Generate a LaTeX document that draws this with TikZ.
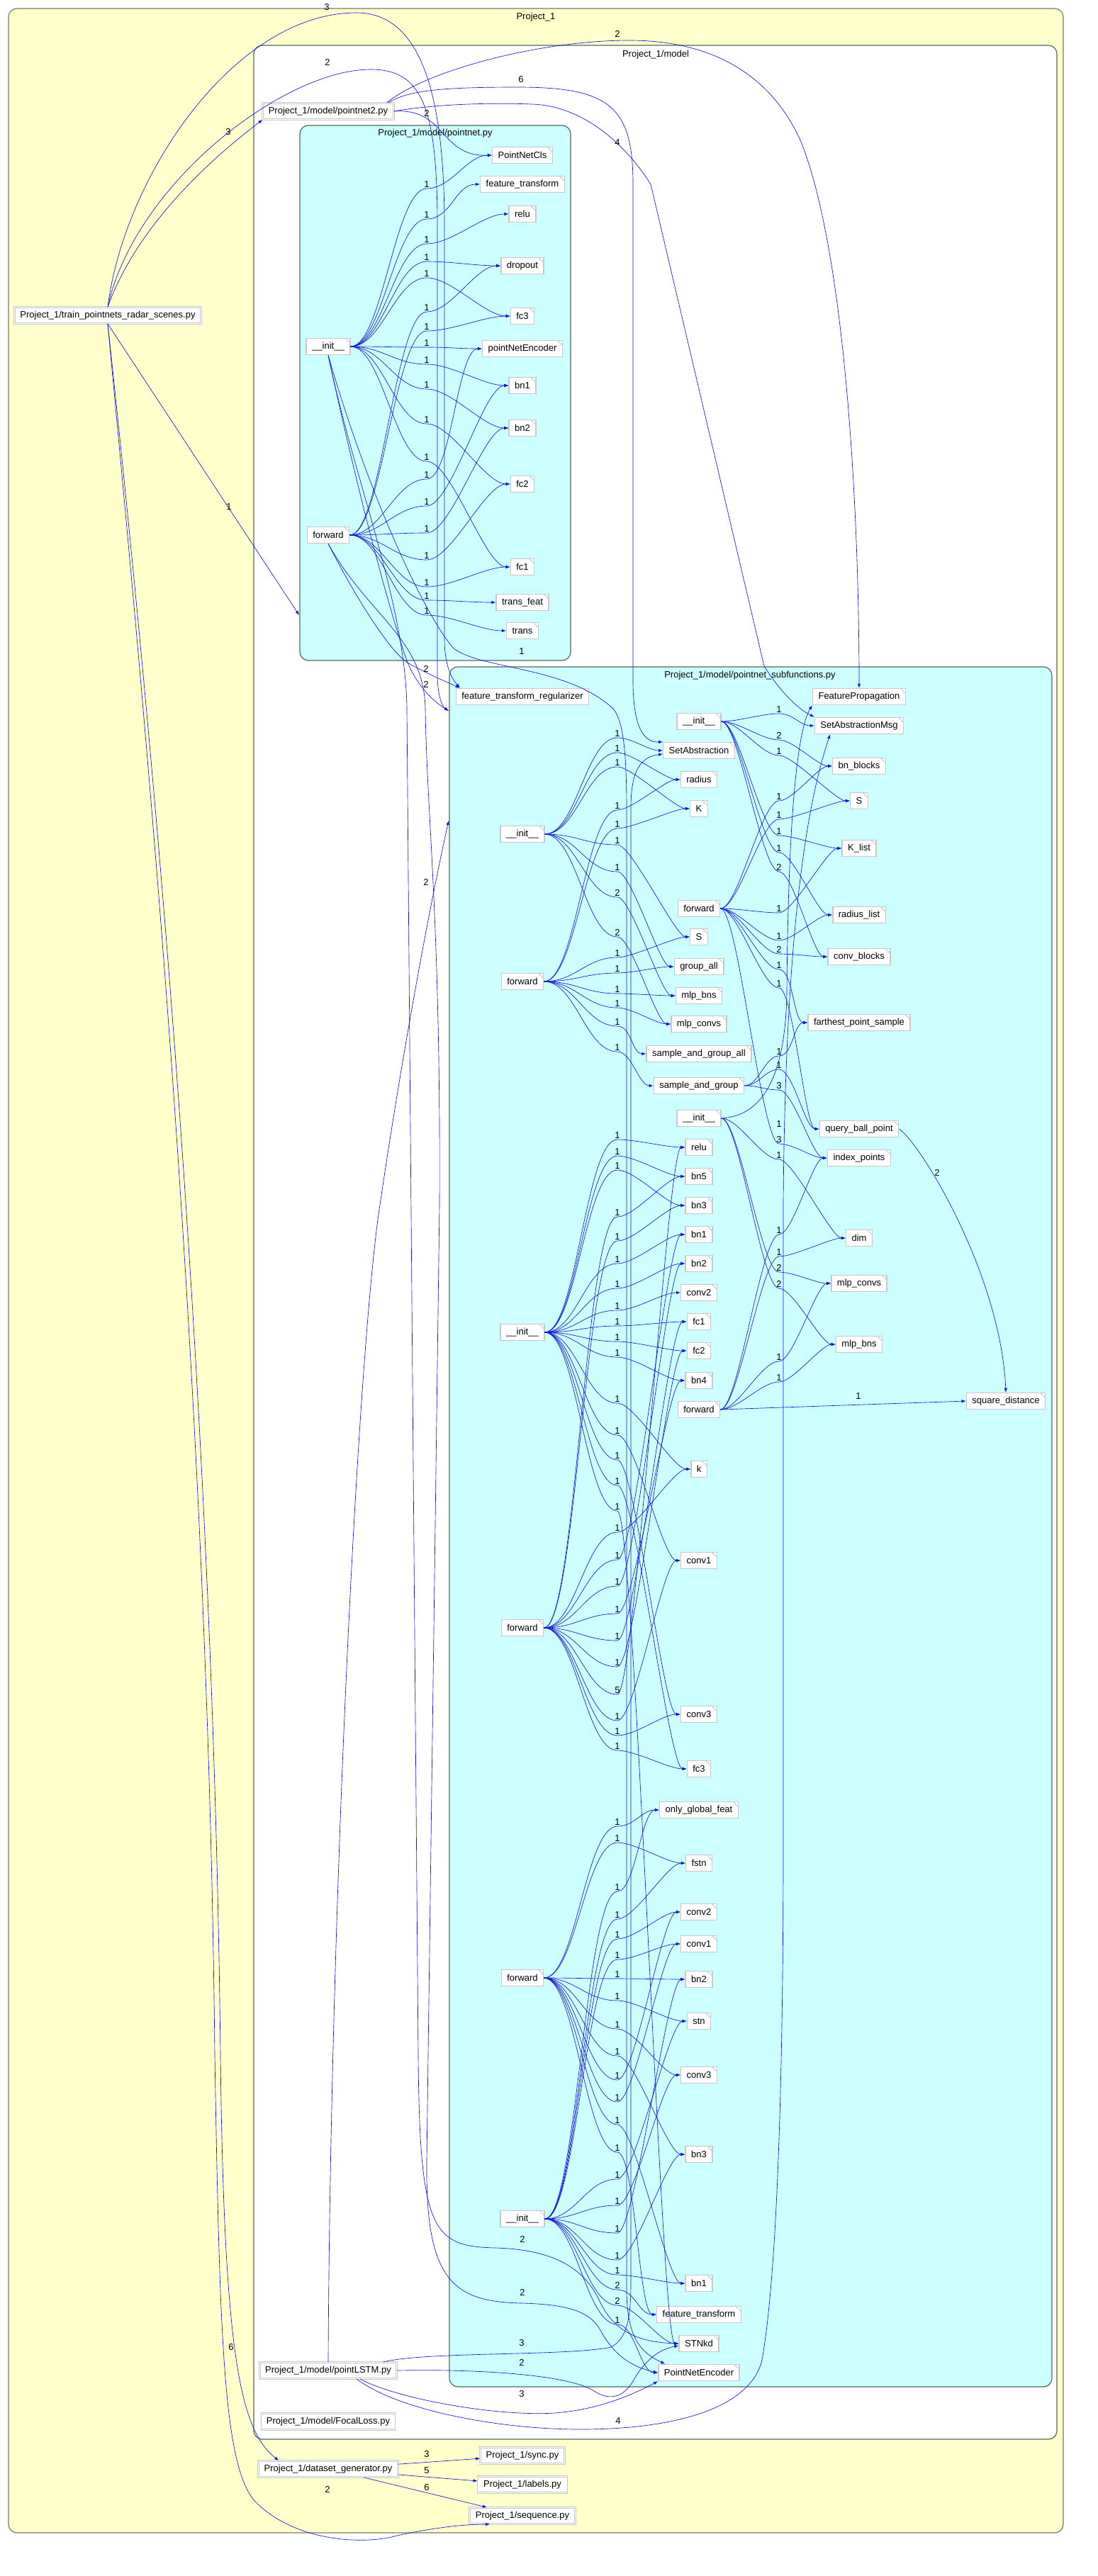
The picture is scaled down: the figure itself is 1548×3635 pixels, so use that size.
\documentclass[tikz,border=0pt]{standalone}
\usepackage{fontspec}
\setmainfont{Liberation Sans}
\usetikzlibrary{arrows.meta}
\definecolor{outerfill}{HTML}{FFFFCC}
\definecolor{cyanfill}{HTML}{CCFFFF}
\definecolor{outerline}{HTML}{7A7A6A}
\definecolor{clusterline}{HTML}{506A5A}
\definecolor{nodeline}{HTML}{C8C8C8}
\definecolor{edgeblue}{HTML}{1010E0}
\newcommand{\gvfont}{\fontsize{13}{15}\selectfont}
\tikzset{
  fnbox/.style={draw=nodeline, line width=1.5pt, fill=white, font=\gvfont,
    minimum height=23pt, inner xsep=8pt, inner ysep=1pt,
    path picture={\draw[nodeline, line width=1pt]
      ([xshift=-7pt]path picture bounding box.north east) --
      ([yshift=-7pt]path picture bounding box.north east);}},
  filebox/.style={draw=nodeline, line width=0.9pt, double=white, double distance=1pt,
    fill=white, font=\gvfont, minimum height=23pt, inner xsep=8pt, inner ysep=1pt},
  clus/.style={rounded corners=12pt, line width=1.2pt},
  call/.style={draw=edgeblue, line width=0.65pt, -{Latex[length=6pt,width=4.5pt]}},
  lbl/.style={font=\gvfont, inner sep=1pt, anchor=south},
  lblc/.style={font=\gvfont, inner sep=1pt, anchor=center}
}
\begin{document}
\begin{tikzpicture}[x=1pt, y=-1pt]
  \useasboundingbox (0,0) rectangle (1548,3635);
  % Clusters
  \filldraw[clus, fill=outerfill, draw=outerline] (12,12) rectangle (1500,3574);
  \node[font=\gvfont] at (756,24) {Project\_1};
  \filldraw[clus, fill=white, draw=clusterline] (358,64) rectangle (1491,3442);
  \node[font=\gvfont] at (925,77) {Project\_1/model};
  \filldraw[clus, fill=cyanfill, draw=clusterline] (423,177) rectangle (805,932);
  \node[font=\gvfont] at (614,188) {Project\_1/model/pointnet.py};
  \filldraw[clus, fill=cyanfill, draw=clusterline] (634,941) rectangle (1484,3368);
  \node[font=\gvfont] at (1058,953) {Project\_1/model/pointnet\_subfunctions.py};
  \coordinate (cbp) at (422,868);
  \coordinate (cb1) at (633,1003);
  \coordinate (cb2) at (633,1158);

  % Files
  \node[filebox] (train) at (152,445) {Project\_1/train\_pointnets\_radar\_scenes.py};
  \node[filebox] (pnet2) at (463,157) {Project\_1/model/pointnet2.py};
  \node[filebox] (plstm) at (463,3345) {Project\_1/model/pointLSTM.py};
  \node[filebox] (focal) at (463,3417) {Project\_1/model/FocalLoss.py};
  \node[filebox] (dgen) at (463,3484) {Project\_1/dataset\_generator.py};
  \node[filebox] (sync) at (737,3465) {Project\_1/sync.py};
  \node[filebox] (labels) at (737,3506) {Project\_1/labels.py};
  \node[filebox] (seq) at (737,3550) {Project\_1/sequence.py};

  % pointnet.py
  \node[fnbox] (pinit) at (463,489) {\_\_init\_\_};
  \node[fnbox] (pfwd) at (463,755) {forward};
  \node[fnbox] (pncls) at (737,219) {PointNetCls};
  \node[fnbox] (pftr) at (737,260) {feature\_transform};
  \node[fnbox] (prelu) at (737,302) {relu};
  \node[fnbox] (pdrop) at (737,375) {dropout};
  \node[fnbox] (pfc3) at (737,446) {fc3};
  \node[fnbox] (penc) at (737,492) {pointNetEncoder};
  \node[fnbox] (pbn1) at (737,544) {bn1};
  \node[fnbox] (pbn2) at (737,604) {bn2};
  \node[fnbox] (pfc2) at (737,683) {fc2};
  \node[fnbox] (pfc1) at (737,800) {fc1};
  \node[fnbox] (ptf) at (737,850) {trans\_feat};
  \node[fnbox] (ptr) at (737,890) {trans};

  % pointnet_subfunctions.py, SetAbstraction / SetAbstractionMsg
  \node[fnbox] (ftreg) at (737,983) {feature\_transform\_regularizer};
  \node[fnbox] (sFP) at (1212,983) {FeaturePropagation};
  \node[fnbox] (initB) at (986,1018) {\_\_init\_\_};
  \node[fnbox] (sSAM) at (1212,1024) {SetAbstractionMsg};
  \node[fnbox] (sSA) at (986,1059) {SetAbstraction};
  \node[fnbox] (bnb) at (1212,1081) {bn\_blocks};
  \node[fnbox] (radA) at (986,1100) {radius};
  \node[fnbox] (SB) at (1212,1130) {S};
  \node[fnbox] (KA) at (986,1141) {K};
  \node[fnbox] (initA) at (737,1177) {\_\_init\_\_};
  \node[fnbox] (Klist) at (1212,1197) {K\_list};
  \node[fnbox] (fwdB) at (986,1282) {forward};
  \node[fnbox] (radlist) at (1212,1291) {radius\_list};
  \node[fnbox] (SA) at (986,1322) {S};
  \node[fnbox] (convb) at (1212,1350) {conv\_blocks};
  \node[fnbox] (gall) at (986,1364) {group\_all};
  \node[fnbox] (fwdA) at (737,1385) {forward};
  \node[fnbox] (mbnsA) at (986,1405) {mlp\_bns};
  \node[fnbox] (fps) at (1212,1443) {farthest\_point\_sample};
  \node[fnbox] (mconvA) at (986,1445) {mlp\_convs};
  \node[fnbox] (sgall) at (986,1487) {sample\_and\_group\_all};
  \node[fnbox] (sg) at (986,1532) {sample\_and\_group};
  % FeaturePropagation / STNkd
  \node[fnbox] (initC) at (986,1578) {\_\_init\_\_};
  \node[fnbox] (qbp) at (1212,1593) {query\_ball\_point};
  \node[fnbox] (reluD) at (986,1619) {relu};
  \node[fnbox] (idxp) at (1212,1634) {index\_points};
  \node[fnbox] (bn5D) at (986,1660) {bn5};
  \node[fnbox] (bn3D) at (986,1701) {bn3};
  \node[fnbox] (bn1D) at (986,1742) {bn1};
  \node[fnbox] (dimC) at (1212,1747) {dim};
  \node[fnbox] (bn2D) at (986,1783) {bn2};
  \node[fnbox] (mconvC) at (1212,1811) {mlp\_convs};
  \node[fnbox] (conv2D) at (986,1824) {conv2};
  \node[fnbox] (fc1D) at (986,1865) {fc1};
  \node[fnbox] (initD) at (737,1880) {\_\_init\_\_};
  \node[fnbox] (mbnsC) at (1212,1897) {mlp\_bns};
  \node[fnbox] (fc2D) at (986,1906) {fc2};
  \node[fnbox] (bn4D) at (986,1948) {bn4};
  \node[fnbox] (sqd) at (1419,1977) {square\_distance};
  \node[fnbox] (fwdC) at (986,1989) {forward};
  \node[fnbox] (kD) at (986,2073) {k};
  \node[fnbox] (conv1D) at (986,2202) {conv1};
  \node[fnbox] (fwdE) at (737,2297) {forward};
  \node[fnbox] (conv3D) at (986,2419) {conv3};
  \node[fnbox] (fc3D) at (986,2496) {fc3};
  % PointNetEncoder
  \node[fnbox] (ogf) at (986,2554) {only\_global\_feat};
  \node[fnbox] (fstn) at (986,2629) {fstn};
  \node[fnbox] (conv2G) at (986,2698) {conv2};
  \node[fnbox] (conv1G) at (986,2743) {conv1};
  \node[fnbox] (fwdF) at (737,2791) {forward};
  \node[fnbox] (bn2G) at (986,2793) {bn2};
  \node[fnbox] (stnG) at (986,2852) {stn};
  \node[fnbox] (conv3G) at (986,2928) {conv3};
  \node[fnbox] (bn3G) at (986,3040) {bn3};
  \node[fnbox] (initG) at (737,3131) {\_\_init\_\_};
  \node[fnbox] (bn1G) at (986,3222) {bn1};
  \node[fnbox] (ftG) at (986,3266) {feature\_transform};
  \node[fnbox] (stnkd) at (986,3307) {STNkd};
  \node[fnbox] (pne) at (986,3348) {PointNetEncoder};

  % train_pointnets_radar_scenes.py
  \draw[call] (train.north) .. controls (200,300) and (330,200) .. (pnet2.south west)
    node[lblc] at (322,186) {3};
  \draw[call] (train.south) -- (cbp) node[lblc] at (323,715) {1};
  \draw[call] (train.north) .. controls (175,250) and (330,18) .. (503,18)
    .. controls (600,18) and (627,150) .. (627,320) -- (627,900)
    .. controls (627,945) and (640,960) .. ([xshift=6pt]ftreg.north west)
    node[lblc] at (461,10) {3};
  \draw[call] (train.north) .. controls (190,260) and (400,98) .. (523,98)
    .. controls (595,98) and (617,150) .. (617,320) -- (617,950)
    .. controls (617,985) and (625,998) .. (cb1)
    node[lblc] at (462,88) {2};
  \draw[call] (train.south) .. controls (205,950) and (300,1900) .. (311,2900)
    .. controls (316,3330) and (340,3430) .. ([xshift=29pt]dgen.north west)
    node[lblc] at (326,3312) {6};
  \draw[call] (train.south) .. controls (198,950) and (293,1900) .. (303,2900)
    .. controls (310,3300) and (315,3480) .. (360,3530)
    .. controls (420,3590) and (520,3590) .. (560,3578)
    .. controls (620,3565) and (660,3562) .. ([xshift=-46pt]seq.south)
    node[lblc] at (462,3513) {2};

  % pointnet2.py
  \draw[call] (pnet2.east) .. controls (630,152) and (620,222) .. (pncls.west)
    node[lblc] at (602,160) {2};
  \draw[call] ([xshift=-8pt]pnet2.north east) .. controls (575,128) and (620,123) .. (730,123)
    .. controls (860,123) and (893,150) .. (893,260) -- (893,960)
    .. controls (893,1030) and (910,1048) .. (sSA.north west)
    node[lblc] at (735,112) {6};
  \draw[call] (pnet2.east) .. controls (620,146) and (700,145) .. (750,147)
    .. controls (820,149) and (880,200) .. (918,260) -- (1078,940)
    .. controls (1100,975) and (1125,1000) .. (sSAM.north west)
    node[lblc] at (871,201) {4};
  \draw[call] ([xshift=-10pt]pnet2.north east) .. controls (600,100) and (760,57) .. (888,57)
    .. controls (1010,57) and (1090,110) .. (1130,200)
    .. controls (1190,350) and (1212,700) .. (sFP.north)
    node[lblc] at (871,48) {2};

  % pointnet.py calls
  \foreach \t/\y in {pncls/260,pftr/303,prelu/338,pdrop/363,pfc3/386,penc/484,pbn1/508,pbn2/543,pfc2/592,pfc1/645}
    \draw[call] (pinit.east) .. controls +(45,0) and +(-45,0) .. (602,\y+6) node[lbl]{1}
      .. controls +(35,0) and +(-35,0) .. (\t.west);
  \foreach \t/\y in {pdrop/434,pfc3/461,penc/670,pbn1/708,pbn2/746,pfc2/784,pfc1/822,ptf/841,ptr/862}
    \draw[call] (pfwd.east) .. controls +(45,0) and +(-45,0) .. (602,\y+6) node[lbl]{1}
      .. controls +(35,0) and +(-35,0) .. (\t.west);
  \draw[call] (pinit.south) .. controls (510,720) and (555,880) .. (575,935)
    .. controls (590,970) and (612,990) .. (cb1) node[lblc] at (601,966) {2};
  \draw[call] (pfwd.south) .. controls (500,840) and (550,920) .. (575,935)
    .. controls (600,950) and (630,962) .. ([xshift=6pt]ftreg.north west)
    node[lblc] at (601,944) {2};
  \draw[call] (pinit.south) .. controls (520,700) and (600,870) .. (640,915)
    .. controls (680,945) and (800,940) .. (865,1000)
    .. controls (882,1020) and (884,1080) .. (884,1150) -- (884,3230)
    .. controls (884,3300) and (905,3320) .. ([xshift=10pt]pne.north west)
    node[lblc] at (736,919) {1};
  \draw[call] (pinit.south) .. controls (500,680) and (572,850) .. (574,1000) -- (590,2900)
    .. controls (592,3150) and (610,3170) .. (700,3172)
    .. controls (800,3175) and (830,3215) .. (845,3245)
    .. controls (865,3290) and (900,3305) .. (stnkd.west)
    node[lblc] at (737,3160) {2};
  \draw[call] (pfwd.south) .. controls (520,870) and (598,900) .. (600,1000)
    .. controls (602,1150) and (622,1300) .. (620,1700) -- (602,3050)
    .. controls (600,3220) and (640,3248) .. (737,3250)
    .. controls (810,3252) and (835,3265) .. (848,3290)
    .. controls (870,3330) and (900,3342) .. (pne.west)
    node[lblc] at (737,3235) {2};

  % pointLSTM.py
  \draw[call] (plstm.north) .. controls (466,2700) and (505,1900) .. (536,1700)
    .. controls (570,1470) and (610,1260) .. (cb2) node[lblc] at (601,1245) {2};
  \draw[call] ([xshift=-20pt]plstm.north east) .. controls (600,3318) and (800,3325) .. (862,3312)
    .. controls (885,3300) and (890,3270) .. (890,3220) -- (890,1140)
    .. controls (890,1085) and (905,1068) .. ([yshift=-5pt]sSA.west)
    node[lblc] at (736,3306) {3};
  \draw[call] (plstm.east) .. controls (650,3343) and (790,3348) .. (835,3372)
    .. controls (858,3388) and (878,3385) .. (893,3360)
    .. controls (910,3330) and (930,3315) .. ([yshift=-3pt]stnkd.west)
    node[lblc] at (736,3334) {2};
  \draw[call] ([xshift=45pt]plstm.south) .. controls (560,3385) and (700,3410) .. (782,3405)
    .. controls (850,3400) and (900,3375) .. (pne.south west)
    node[lblc] at (736,3378) {3};
  \draw[call] ([xshift=40pt]plstm.south) .. controls (560,3400) and (700,3428) .. (819,3428)
    .. controls (960,3428) and (1060,3395) .. (1075,3330)
    .. controls (1098,3200) and (1105,2900) .. (1105,2600) -- (1105,1700)
    .. controls (1108,1250) and (1150,1100) .. ([xshift=-41pt]sSAM.south)
    node[lblc] at (872,3416) {4};

  % dataset_generator.py
  \draw[call] (dgen) -- (sync) node[lblc] at (602,3463) {3};
  \draw[call] (dgen) -- (labels) node[lblc] at (602,3486) {5};
  \draw[call] ([xshift=50pt]dgen.south) -- ([xshift=-50pt]seq.north) node[lblc] at (602,3510) {6};

  % SetAbstraction
  \foreach \t/\y/\n in {sSA/1035/1,radA/1056/1,KA/1076/1,SA/1186/1,gall/1224/1,mbnsA/1260/2,mconvA/1316/2}
    \draw[call] (initA.east) .. controls +(45,0) and +(-45,0) .. (871,\y+6) node[lbl]{\n}
      .. controls +(20,0) and +(-20,0) .. (\t.west);
  \foreach \t/\y in {radA/1137,KA/1163,SA/1345,gall/1367,mbnsA/1396,mconvA/1416,sgall/1442,sg/1478}
    \draw[call] (fwdA.east) .. controls +(45,0) and +(-45,0) .. (871,\y+6) node[lbl]{1}
      .. controls +(20,0) and +(-20,0) .. (\t.west);

  % SetAbstractionMsg and sample_and_group
  \foreach \t/\y/\n in {sSAM/1001/1,bnb/1038/2,SB/1060/1,Klist/1173/1,radlist/1197/1,convb/1224/2}
    \draw[call] (initB.east) .. controls +(25,0) and +(-25,0) .. (1099,\y+6) node[lbl]{\n}
      .. controls +(20,0) and +(-20,0) .. (\t.west);
  \foreach \t/\y/\n in {bnb/1124/1,SB/1150/1,Klist/1282/1,radlist/1321/1,convb/1340/2,fps/1362/1,qbp/1388/1,idxp/1608/3}
    \draw[call] (fwdB.east) .. controls +(25,0) and +(-25,0) .. (1099,\y+6) node[lbl]{\n}
      .. controls +(20,0) and +(-20,0) .. (\t.west);
  \foreach \t/\y/\n in {fps/1484/1,qbp/1503/1,idxp/1532/3}
    \draw[call] (sg.east) .. controls +(20,0) and +(-20,0) .. (1099,\y+6) node[lbl]{\n}
      .. controls +(20,0) and +(-20,0) .. (\t.west);

  % FeaturePropagation
  \draw[call] (initC.east) .. controls (1070,1575) and (1108,1530) .. (1110,1400)
    .. controls (1112,1150) and (1125,1030) .. (sFP.south west)
    node[lblc] at (1099,1586) {1};
  \foreach \t/\y/\n in {dimC/1630/1,mconvC/1789/2,mbnsC/1812/2}
    \draw[call] (initC.east) .. controls +(25,0) and +(-25,0) .. (1099,\y+6) node[lbl]{\n}
      .. controls +(20,0) and +(-20,0) .. (\t.west);
  \foreach \t/\y in {idxp/1736,dimC/1767,mconvC/1915,mbnsC/1944}
    \draw[call] (fwdC.east) .. controls +(25,0) and +(-25,0) .. (1099,\y+6) node[lbl]{1}
      .. controls +(20,0) and +(-20,0) .. (\t.west);
  \draw[call] (qbp.east) .. controls (1300,1615) and (1412,1800) .. (sqd.north)
    node[lblc] at (1322,1655) {2};
  \draw[call] (fwdC.east) -- (sqd.west) node[lblc] at (1211,1970) {1};

  % STNkd
  \foreach \t/\y in {reluD/1602,bn5D/1625,bn3D/1645,bn1D/1777,bn2D/1812,conv2D/1843,fc1D/1865,fc2D/1887,bn4D/1909,kD/1974,conv1D/2019,conv3D/2054,fc3D/2090,stnkd/2126}
    \draw[call] (initD.east) .. controls +(45,0) and +(-45,0) .. (871,\y+6) node[lbl]{1}
      .. controls +(25,0) and +(-25,0) .. (\t.west);
  \foreach \t/\y/\n in {bn5D/1711/1,bn3D/1745/1,kD/2156/1,bn1D/2195/1,bn2D/2232/1,bn4D/2271/1,fc1D/2309/1,fc2D/2346/1,reluD/2385/5,conv1D/2422/1,conv3D/2443/1,fc3D/2464/1}
    \draw[call] (fwdE.east) .. controls +(45,0) and +(-45,0) .. (871,\y+6) node[lbl]{\n}
      .. controls +(25,0) and +(-25,0) .. (\t.west);

  % PointNetEncoder
  \foreach \t/\y in {ogf/2571,fstn/2594,bn2G/2786,stnG/2817,conv3G/2857,bn3G/2895,conv2G/2929,conv1G/2960,bn1G/2992,ftG/3031}
    \draw[call] (fwdF.east) .. controls +(45,0) and +(-45,0) .. (871,\y+6) node[lbl]{1}
      .. controls +(25,0) and +(-25,0) .. (\t.west);
  \foreach \t/\y/\n in {ogf/2663/1,fstn/2702/1,conv2G/2730/1,conv1G/2759/1,stnG/3069/1,conv3G/3106/1,bn2G/3145/1,bn3G/3183/1,bn1G/3204/1,ftG/3225/2,stnkd/3247/2,pne/3274/1}
    \draw[call] (initG.east) .. controls +(45,0) and +(-45,0) .. (871,\y+6) node[lbl]{\n}
      .. controls +(25,0) and +(-25,0) .. (\t.west);
\end{tikzpicture}
\end{document}
